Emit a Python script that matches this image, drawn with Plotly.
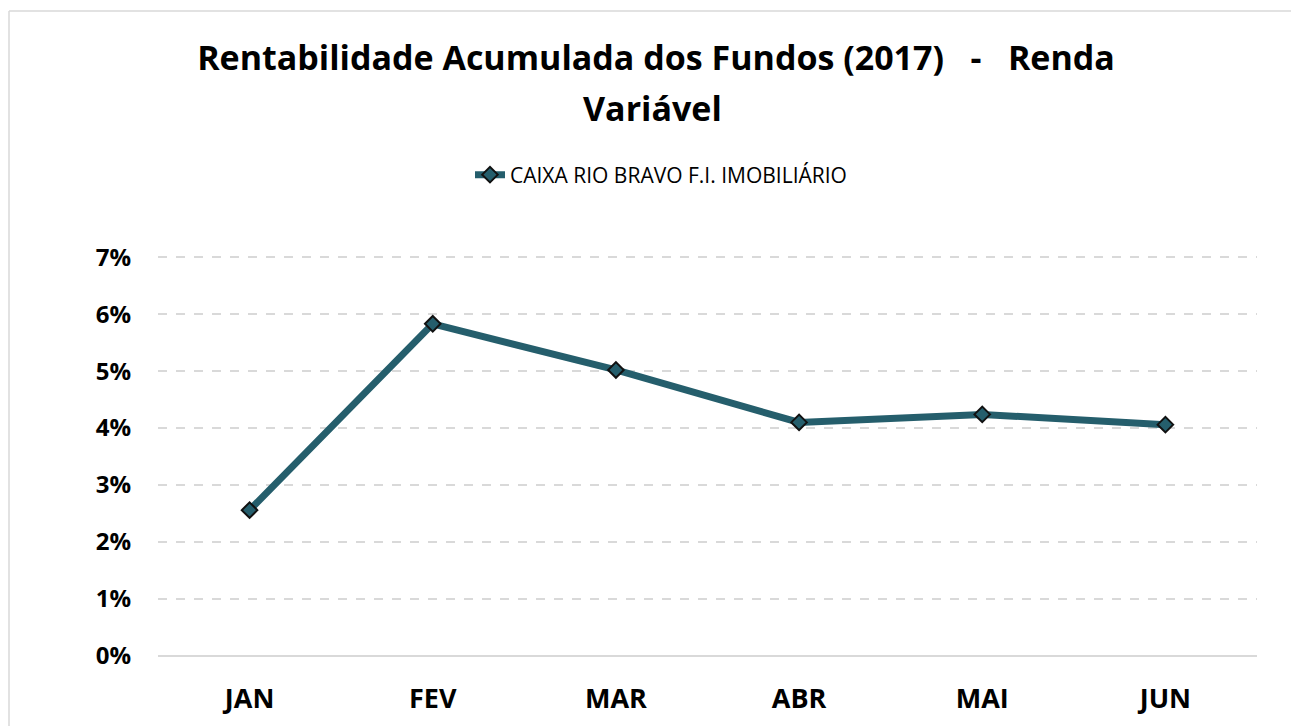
import plotly.graph_objects as go

months = ["JAN", "FEV", "MAR", "ABR", "MAI", "JUN"]
values = [0.0256, 0.0583, 0.0502, 0.0410, 0.0424, 0.0406]
series_name = "CAIXA RIO BRAVO F.I. IMOBILIÁRIO"
y_ticks = [0, 0.01, 0.02, 0.03, 0.04, 0.05, 0.06, 0.07]
y_labels = ["0%", "1%", "2%", "3%", "4%", "5%", "6%", "7%"]
title_line1 = "Rentabilidade Acumulada dos Fundos (2017)   -   Renda"
title_line2 = "Variável"

color = "#255E6C"
font = "Open Sans"

fig = go.Figure()
fig.add_trace(go.Scatter(
    x=months, y=values, name=series_name, mode="lines+markers",
    line=dict(color=color, width=7),
    marker=dict(symbol="diamond", size=12, color=color,
                line=dict(color="#111111", width=2)),
))

W, H = 1291, 726
L, R, T, B = 158, W - 1257, 256, H - 656
pw, ph = W - L - R, H - T - B

title_font = dict(family=font, size=34, color="#000000", weight="bold")
border = dict(color="#D9D9D9", width=1.5)
bx0 = (9 - L) / pw
by1 = 1 + (T - 11) / ph

fig.update_layout(
    width=W, height=H,
    margin=dict(l=L, r=R, t=T, b=B, autoexpand=False),
    paper_bgcolor="white", plot_bgcolor="white",
    title=dict(
        text=title_line1,
        x=656 / W, xanchor="center", y=1 - 58 / H, yanchor="middle",
        font=title_font,
    ),
    annotations=[dict(
        text=title_line2, xref="paper", yref="paper",
        x=(652 - L) / pw, y=1 + (T - 108) / ph, xanchor="center",
        yanchor="middle", showarrow=False, font=title_font,
    )],
    showlegend=True,
    legend=dict(orientation="h", x=(661 - L) / pw, xanchor="center",
                y=1 + (256 - 175) / ph, yanchor="middle",
                font=dict(family=font, size=21, color="#000000")),
    xaxis=dict(
        range=[-0.5, 5.5], showgrid=False, zeroline=False, automargin=False,
        showline=False, ticks="", ticklabelstandoff=24,
        tickfont=dict(family=font, size=27, color="#000000", weight="bold"),
    ),
    yaxis=dict(
        range=[0, 0.0702], tickvals=y_ticks, ticktext=y_labels, automargin=False,
        showgrid=True, gridcolor="#D9D9D9", griddash="dash", gridwidth=1.5,
        zeroline=True, zerolinecolor="#D9D9D9", zerolinewidth=2,
        showline=False, ticks="", ticklabelstandoff=26,
        tickfont=dict(family=font, size=24, color="#000000", weight="bold"),
    ),
    shapes=[
        dict(type="line", xref="paper", yref="paper",
             x0=bx0, x1=(W + 20 - L) / pw, y0=by1, y1=by1,
             line=border, layer="below"),
        dict(type="line", xref="paper", yref="paper",
             x0=bx0, x1=bx0, y0=-(B + 20) / ph, y1=by1,
             line=border, layer="below"),
    ],
)

fig.write_html(
    "out.html",
    config={"displayModeBar": False},
    post_script=("document.body.style.margin='0';"
                 "document.body.style.overflow='hidden';"
                 "document.documentElement.style.overflow='hidden';"),
)
